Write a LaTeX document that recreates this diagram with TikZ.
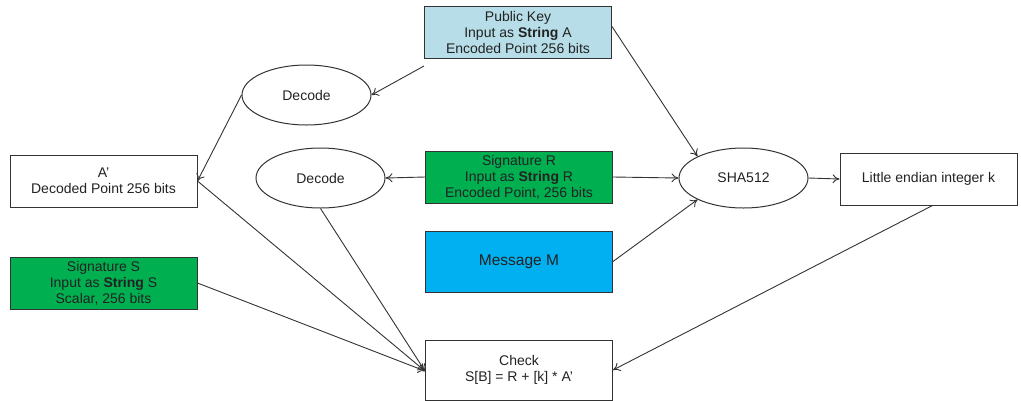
\documentclass[tikz,border=0pt]{standalone}
\usepackage{fontspec}
\setmainfont{Liberation Sans}
\usetikzlibrary{shapes.geometric,arrows.meta}
\definecolor{pkblue}{HTML}{B7DEE8}
\definecolor{siggreen}{HTML}{00B050}
\definecolor{msgblue}{HTML}{00B0F0}
\definecolor{edge}{HTML}{333333}
\definecolor{ink}{HTML}{222222}
\tikzset{
  box/.style={draw=edge, line width=1pt, minimum width=187pt, minimum height=52pt,
    inner sep=0pt, align=center, text=ink, font=\fontsize{14}{16}\selectfont},
  oval/.style={draw=edge, line width=1pt, ellipse, minimum width=129pt, minimum height=60pt,
    inner sep=0pt, text=ink, font=\fontsize{14}{16}\selectfont},
  conn/.style={draw=edge, line width=0.9pt, -{To[length=7pt,width=9pt]}},
}
\begin{document}
\begin{tikzpicture}[x=1pt,y=-1pt]
\useasboundingbox (0,0) rectangle (1021,400);

% input values
\node[box, fill=pkblue] (pk) at (518,32.5) {Public Key\\Input as \textbf{String} A\\Encoded Point 256 bits};
\node[box, fill=siggreen] (sigr) at (519,177) {Signature R\\Input as \textbf{String} R\\Encoded Point, 256 bits};
\node[box, fill=msgblue, minimum height=61pt, font=\fontsize{15.5}{18}\selectfont] (msg) at (519,261.5) {Message M};
\node[box, fill=siggreen] (sigs) at (103.5,283) {Signature S\\Input as \textbf{String} S\\Scalar, 256 bits};

% processing steps
\node[oval] (dec1) at (306.5,95) {Decode};
\node[oval] (dec2) at (320.5,178) {Decode};
\node[oval] (sha) at (743.5,178) {SHA512};
\node[box, fill=white] (aprime) at (103.5,181) {A'\\Decoded Point 256 bits};
\node[box, fill=white, minimum width=177pt] (kint) at (928.5,179) {Little endian integer k};
\node[box, fill=white, minimum height=60pt] (check) at (519,370) {Check\\S[B] = R + [k] * A'};

% connectors
\coordinate (chk) at ([yshift=-1pt]check.west);
\draw[conn] ([yshift=-7pt]pk.south west) -- (dec1.east);
\draw[conn] (dec1.west) -- (aprime.east);
\draw[conn] ([yshift=6pt]pk.east) -- (sha.north west);
\draw[conn] (sigr.west) -- (dec2.east);
\draw[conn] (sigr.east) -- (sha.west);
\draw[conn] (msg.east) -- (sha.south west);
\draw[conn] (sha.east) -- (kint.west);
\draw[conn] ([xshift=4pt]kint.south) -- (check.east);
\draw[conn] (aprime.east) -- (chk);
\draw[conn] (dec2.south) -- (chk);
\draw[conn] (sigs.east) -- (chk);
\end{tikzpicture}
\end{document}
